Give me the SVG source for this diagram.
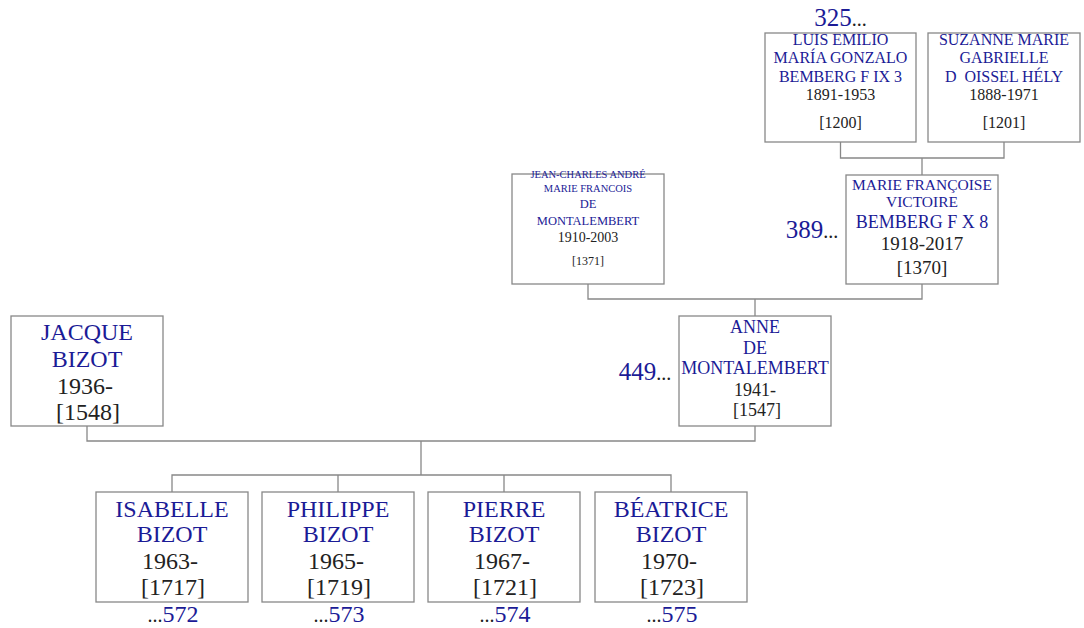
<svg xmlns="http://www.w3.org/2000/svg" width="1084" height="628" viewBox="0 0 1084 628">
<style>
.box{fill:#fff;stroke:#888;stroke-width:1.3}
.conn{fill:none;stroke:#888;stroke-width:1.3}
text{font-family:"Liberation Serif","DejaVu Serif",serif;text-anchor:middle}
.nm{fill:#1b1b96}
.dt{fill:#222}
.num{fill:#1b1b96}
.dots{fill:#222}
</style>
<rect width="1084" height="628" fill="#fff"/>
<g id="connectors">
<path class="conn" d="M840.5 142V158H1004V142M922 158V175"/>
<path class="conn" d="M588 284V299H922V284M755 299V316"/>
<path class="conn" d="M87 426V441H755V426M421 441V475M172 492V475H671V492M338 475V492M504 475V492"/>
</g>
<g id="luis">
<rect class="box" x="765" y="33" width="151" height="109"/>
<text x="840.5" y="26" font-size="25" text-anchor="middle"><tspan class="num">325</tspan><tspan class="dots" font-size="20">...</tspan></text>
<text class="nm" x="840.5" y="45" font-size="16">LUIS EMILIO</text>
<text class="nm" x="840.5" y="63" font-size="16">MARÍA GONZALO</text>
<text class="nm" x="840.5" y="82" font-size="16">BEMBERG F IX 3</text>
<text class="dt" x="840.5" y="100" font-size="16">1891-1953</text>
<text class="dt" x="840.5" y="128" font-size="16">[1200]</text>
</g>
<g id="suzanne">
<rect class="box" x="928" y="33" width="152" height="109"/>
<text class="nm" x="1004" y="45" font-size="16">SUZANNE MARIE</text>
<text class="nm" x="1004" y="63" font-size="16">GABRIELLE</text>
<text class="nm" x="1004" y="82" font-size="16" xml:space="preserve">D  OISSEL HÉLY</text>
<text class="dt" x="1004" y="100" font-size="16">1888-1971</text>
<text class="dt" x="1004" y="128" font-size="16">[1201]</text>
</g>
<g id="jeancharles">
<rect class="box" x="512" y="174" width="152" height="110"/>
<text class="nm" x="588" y="178" font-size="10.5">JEAN-CHARLES ANDRÉ</text>
<text class="nm" x="588" y="192" font-size="10.5">MARIE FRANCOIS</text>
<text class="nm" x="588" y="208" font-size="12.5">DE</text>
<text class="nm" x="588" y="225" font-size="12.5">MONTALEMBERT</text>
<text class="dt" x="588" y="242" font-size="14">1910-2003</text>
<text class="dt" x="588" y="265" font-size="12">[1371]</text>
</g>
<g id="mariefrancoise">
<rect class="box" x="846" y="175" width="152" height="109"/>
<text x="812" y="238" font-size="25"><tspan class="num">389</tspan><tspan class="dots" font-size="20">...</tspan></text>
<text class="nm" x="922" y="190" font-size="15.5">MARIE FRANÇOISE</text>
<text class="nm" x="922" y="207" font-size="15.5">VICTOIRE</text>
<text class="nm" x="922" y="228" font-size="18">BEMBERG F X 8</text>
<text class="dt" x="922" y="250" font-size="19">1918-2017</text>
<text class="dt" x="922" y="274" font-size="19">[1370]</text>
</g>
<g id="anne">
<rect class="box" x="679" y="316" width="152" height="110"/>
<text x="645" y="380" font-size="25"><tspan class="num">449</tspan><tspan class="dots" font-size="20">...</tspan></text>
<text class="nm" x="755" y="333" font-size="18">ANNE</text>
<text class="nm" x="755" y="354" font-size="18">DE</text>
<text class="nm" x="755" y="374" font-size="18">MONTALEMBERT</text>
<text class="dt" x="755" y="396" font-size="18">1941-</text>
<text class="dt" x="757" y="416" font-size="18">[1547]</text>
</g>
<g id="jacque">
<rect class="box" x="11" y="316" width="152" height="110"/>
<text class="nm" x="87" y="340" font-size="24">JACQUE</text>
<text class="nm" x="87" y="367" font-size="24">BIZOT</text>
<text class="dt" x="85" y="394" font-size="24">1936-</text>
<text class="dt" x="88" y="420" font-size="24">[1548]</text>
</g>
<g id="isabelle">
<rect class="box" x="96" y="492" width="152" height="110"/>
<text class="nm" x="172" y="517" font-size="24">ISABELLE</text>
<text class="nm" x="172" y="542" font-size="24">BIZOT</text>
<text class="dt" x="170" y="569" font-size="24">1963-</text>
<text class="dt" x="173" y="595" font-size="24">[1717]</text>
<text x="173" y="622" font-size="24"><tspan class="dots" font-size="20">...</tspan><tspan class="num">572</tspan></text>
</g>
<g id="philippe">
<rect class="box" x="262" y="492" width="152" height="110"/>
<text class="nm" x="338" y="517" font-size="24">PHILIPPE</text>
<text class="nm" x="338" y="542" font-size="24">BIZOT</text>
<text class="dt" x="336" y="569" font-size="24">1965-</text>
<text class="dt" x="339" y="595" font-size="24">[1719]</text>
<text x="339" y="622" font-size="24"><tspan class="dots" font-size="20">...</tspan><tspan class="num">573</tspan></text>
</g>
<g id="pierre">
<rect class="box" x="428" y="492" width="152" height="110"/>
<text class="nm" x="504" y="517" font-size="24">PIERRE</text>
<text class="nm" x="504" y="542" font-size="24">BIZOT</text>
<text class="dt" x="502" y="569" font-size="24">1967-</text>
<text class="dt" x="505" y="595" font-size="24">[1721]</text>
<text x="505" y="622" font-size="24"><tspan class="dots" font-size="20">...</tspan><tspan class="num">574</tspan></text>
</g>
<g id="beatrice">
<rect class="box" x="595" y="492" width="152" height="110"/>
<text class="nm" x="671" y="517" font-size="24">BÉATRICE</text>
<text class="nm" x="671" y="542" font-size="24">BIZOT</text>
<text class="dt" x="669" y="569" font-size="24">1970-</text>
<text class="dt" x="672" y="595" font-size="24">[1723]</text>
<text x="672" y="622" font-size="24"><tspan class="dots" font-size="20">...</tspan><tspan class="num">575</tspan></text>
</g>
</svg>
